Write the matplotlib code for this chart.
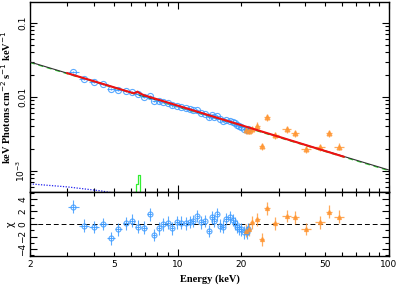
"""
Unfolded spectrum with model components and chi residuals (two panels).
"""
import matplotlib
matplotlib.use("Agg")
import matplotlib.pyplot as plt
from matplotlib.ticker import LogLocator, FixedLocator, NullFormatter, FixedFormatter, MultipleLocator
import numpy as np

# ---- data ----
blue_energy = [3.21, 3.62, 4.03, 4.45, 4.84, 5.24, 5.70, 6.08, 6.47, 6.94, 7.36, 7.74,
               8.20, 8.56, 8.98, 9.43, 9.90, 10.36, 10.9, 11.4, 11.8, 12.4, 12.9, 13.4,
               14.1, 14.5, 14.9, 15.4, 15.9, 16.4, 16.9, 17.6, 18.2, 18.6, 19.1, 19.6,
               19.9, 20.5, 21.2, 21.4]
blue_flux = [0.0218, 0.0176, 0.0160, 0.0150, 0.0128, 0.0126, 0.0121, 0.0117, 0.0111, 0.0101,
             0.0102, 0.0088, 0.0087, 0.0085, 0.0083, 0.0077, 0.0076, 0.0073, 0.0070, 0.0068,
             0.0066, 0.0066, 0.0061, 0.0059, 0.0053, 0.0057, 0.0054, 0.0055, 0.0050, 0.0048,
             0.0049, 0.0048, 0.0046, 0.0044, 0.0042, 0.0040, 0.0039, 0.0037, 0.0036, 0.0037]
blue_resid = [2.77, -0.27, -0.5, 0.0, -2.3, -0.85, 0.1, 0.53, -0.43, -0.6, 1.55, -1.76,
              -0.7, -0.05, 0.2, -0.7, 0.27, 0.2, 0.1, 0.3, 0.5, 1.3, 0.27, 0.5,
              -1.1, 1.07, 0.5, 1.55, -0.27, -0.43, 0.8, 1.07, 0.64, 0.1, -0.43, -0.8,
              -0.85, -1.33, -1.33, -0.8]
blue_xerr = [0.19, 0.20, 0.21, 0.21, 0.20, 0.20, 0.20, 0.18, 0.18, 0.20, 0.18, 0.18,
             0.18, 0.18, 0.20, 0.20, 0.20, 0.22, 0.24, 0.22, 0.22, 0.26, 0.26, 0.26,
             0.28, 0.28, 0.28, 0.30, 0.30, 0.30, 0.32, 0.34, 0.34, 0.34, 0.36, 0.36,
             0.36, 0.40, 0.40, 0.40]

orange_energy = [21.0, 21.8, 22.4, 23.8, 25.0, 26.5, 29.0, 32.8, 35.8, 40.4, 47.2, 52.2, 58.2]
orange_flux = [0.00358, 0.00350, 0.00370, 0.00410, 0.00218, 0.00531, 0.00306, 0.00370,
               0.00323, 0.00198, 0.00209, 0.00323, 0.00213]
orange_resid = [-1.07, -0.85, 0.27, 0.75, -2.45, 2.5, 0.1, 1.28, 1.07, -0.8, 0.27, 1.97, 1.17]
orange_xerr = [0.4, 0.4, 0.5, 0.6, 0.7, 0.8, 1.2, 1.5, 1.6, 2.2, 2.6, 1.8, 3.2]

BLUE_REL_ERR = 0.035
ORANGE_REL_ERR = 0.11

# model curves
total_energy = [2.0, 100.0]
total_flux = [0.0297, 0.00103]
cont_energy = [2.0, 100.0]
cont_flux = [0.0292, 0.00101]
fit_energy = [3.0, 6.2, 6.45, 6.6, 6.9, 61.0]
fit_flux = [0.0210, 0.0112, 0.0118, 0.0113, 0.0106, 0.00156]
soft_energy = [2.0, 3.0, 4.3, 6.0]
soft_flux = [6.7e-4, 6.1e-4, 5.4e-4, 4.6e-4]
line_energy = [6.30, 6.43, 6.53, 6.78, 6.90]
line_flux = [1e-4, 6.6e-4, 8.7e-4, 1e-4, 1e-4]

BLUE = "#3d9bff"
ORANGE = "#ff9633"

plt.rcParams["font.family"] = "DejaVu Sans"
fig = plt.figure(figsize=(3.99, 2.88), dpi=100)
ax = fig.add_axes([0.0752, 0.3333, 0.8998, 0.6597])
axr = fig.add_axes([0.0752, 0.1111, 0.8998, 0.2222], sharex=ax)

be = np.array(blue_energy)
bf = np.array(blue_flux)
oe = np.array(orange_energy)
of = np.array(orange_flux)

ax.plot(cont_energy, cont_flux, color="#33dd33", lw=0.9, ls=(0, (4, 3)), zorder=2)
ax.plot(total_energy, total_flux, color="#333333", lw=0.8, zorder=3)
ax.plot(soft_energy, soft_flux, color="#2222ee", lw=0.9, ls=(0, (1, 1.2)), zorder=2)
ax.plot(line_energy, line_flux, color="#33ee33", lw=0.9, drawstyle="steps-mid", zorder=2)

ax.errorbar(be, bf, xerr=blue_xerr, yerr=bf * BLUE_REL_ERR, fmt="o", ms=4.4,
            mfc="none", mec=BLUE, mew=0.8, ecolor=BLUE, elinewidth=0.8, alpha=0.85,
            capsize=0, zorder=4)
ax.errorbar(oe, of, xerr=orange_xerr, yerr=of * ORANGE_REL_ERR, fmt="^", ms=3.4,
            mfc=ORANGE, mec=ORANGE, ecolor=ORANGE, elinewidth=0.9, alpha=0.8,
            capsize=0, zorder=4)
ax.plot(fit_energy, fit_flux, color="#ee1111", lw=1.5, zorder=5)

ax.set_xscale("log")
ax.set_yscale("log")
ax.set_xlim(2, 100)
ax.set_ylim(5.2e-4, 0.192)

ax.yaxis.set_major_locator(FixedLocator([1e-3, 1e-2, 1e-1]))
ax.yaxis.set_major_formatter(FixedFormatter([r"$10^{-3}$", "0.01", "0.1"]))
ax.yaxis.set_minor_locator(LogLocator(base=10, subs=np.arange(2, 10)))
ax.yaxis.set_minor_formatter(NullFormatter())
for lab in ax.get_yticklabels():
    lab.set_rotation(90)
    lab.set_va("center")
ax.tick_params(axis="x", which="both", labelbottom=False)
ax.set_ylabel(r"keV Photons cm$^{-2}$ s$^{-1}$ keV$^{-1}$",
              fontsize=7.5, fontfamily="Liberation Serif", fontweight="bold", labelpad=1)

axr.errorbar(be, blue_resid, xerr=blue_xerr, yerr=1.0, fmt="o", ms=3.6,
             mfc="none", mec=BLUE, mew=0.8, ecolor=BLUE, elinewidth=0.8, alpha=0.85,
             capsize=0, zorder=4)
axr.errorbar(oe, orange_resid, xerr=orange_xerr, yerr=1.0, fmt="^", ms=2.8,
             mfc=ORANGE, mec=ORANGE, ecolor=ORANGE, elinewidth=0.9, alpha=0.8,
             capsize=0, zorder=4)
axr.axhline(0, color="black", lw=0.7, ls=(0, (5, 3)), zorder=3)
axr.set_ylim(-5.1, 5.1)
axr.yaxis.set_major_locator(MultipleLocator(2))
axr.yaxis.set_minor_locator(MultipleLocator(1))
axr.set_yticks([-4, -2, 0, 2, 4])
axr.set_yticklabels(["\u22124", "\u22122", "0", "2", "4"], rotation=90, va="center")
axr.set_ylabel("\u03c7", fontsize=7, labelpad=2)

axr.xaxis.set_major_locator(FixedLocator([10, 100]))
axr.xaxis.set_minor_locator(FixedLocator([2, 3, 4, 5, 6, 7, 8, 9, 20, 30, 40, 50, 60, 70, 80, 90]))
axr.xaxis.set_major_formatter(FixedFormatter(["10", "100"]))
axr.xaxis.set_minor_formatter(FixedFormatter(["2", "", "", "5", "", "", "", "",
                                              "20", "", "", "50", "", "", "", ""]))
axr.set_xlabel("Energy (keV)", fontsize=7.5, fontfamily="Liberation Serif",
               fontweight="bold", labelpad=4)

for a in (ax, axr):
    a.tick_params(which="both", direction="in", top=True, right=True,
                  labelsize=6.5, pad=2, width=0.8)
    a.tick_params(which="major", length=5)
    a.tick_params(which="minor", length=3)
    for s in a.spines.values():
        s.set_linewidth(1.0)
axr.tick_params(axis="x", which="both", pad=3)
axr.tick_params(axis="x", which="minor", labelsize=6.5)

fig.savefig("out.png", dpi=100)
